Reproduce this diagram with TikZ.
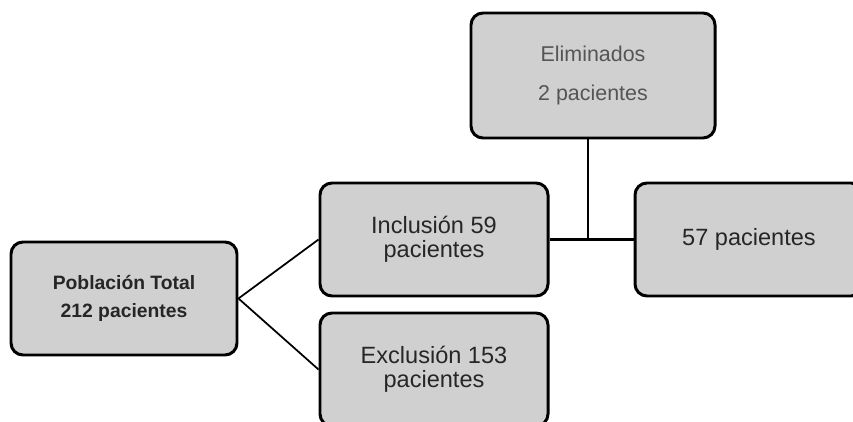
\documentclass[tikz,border=0pt]{standalone}
\usepackage{fontspec}
\setmainfont{Liberation Sans}
\usepackage{tikz}
\usetikzlibrary{positioning}
\definecolor{boxfill}{HTML}{D1D0D1}
\definecolor{boxtext}{HTML}{262626}
\definecolor{softtext}{HTML}{555555}

\tikzset{
    flowbox/.style={draw=black, fill=boxfill, line width=1.7pt, rounded corners=0.24cm,
        minimum width=4.56cm, minimum height=2.26cm, align=center, text=boxtext,
        font=\fontsize{13.4}{13.8}\selectfont, inner sep=0pt},
    link/.style={draw=black, line width=1pt},
    trunk/.style={draw=black, line width=1.5pt}
}

\begin{document}
\begin{tikzpicture}
    \useasboundingbox (0,0) rectangle (17.06,8.42);
    \begin{scope}
    \clip (0,0) rectangle (17.06,8.42);

    % Boxes
    \node[flowbox, minimum width=4.52cm, font=\bfseries\fontsize{11}{15.9}\selectfont] (pob) at (2.48,2.45) {Población Total\\212 pacientes};
    \node[flowbox] (inc) at (8.68,3.63) {Inclusión 59\\pacientes};
    \node[flowbox] (exc) at (8.68,1.03) {Exclusión 153\\pacientes};
    \node[flowbox, minimum width=4.88cm, minimum height=2.5cm, text=softtext, font=\fontsize{12.2}{22.7}\selectfont] (elim) at (11.86,6.91) {Eliminados\\2 pacientes};
    \node[flowbox] (fin) at (14.98,3.63) {57 pacientes};

    % Connectors
    \draw[link] (pob.east) -- (inc.west);
    \draw[link] (pob.east) -- (exc.west);
    \coordinate (jn) at (11.76,3.63);
    \draw[trunk] (inc.east) -- (fin.west);
    \draw[trunk] (jn |- elim.south) -- (jn);
    \end{scope}
\end{tikzpicture}
\end{document}
